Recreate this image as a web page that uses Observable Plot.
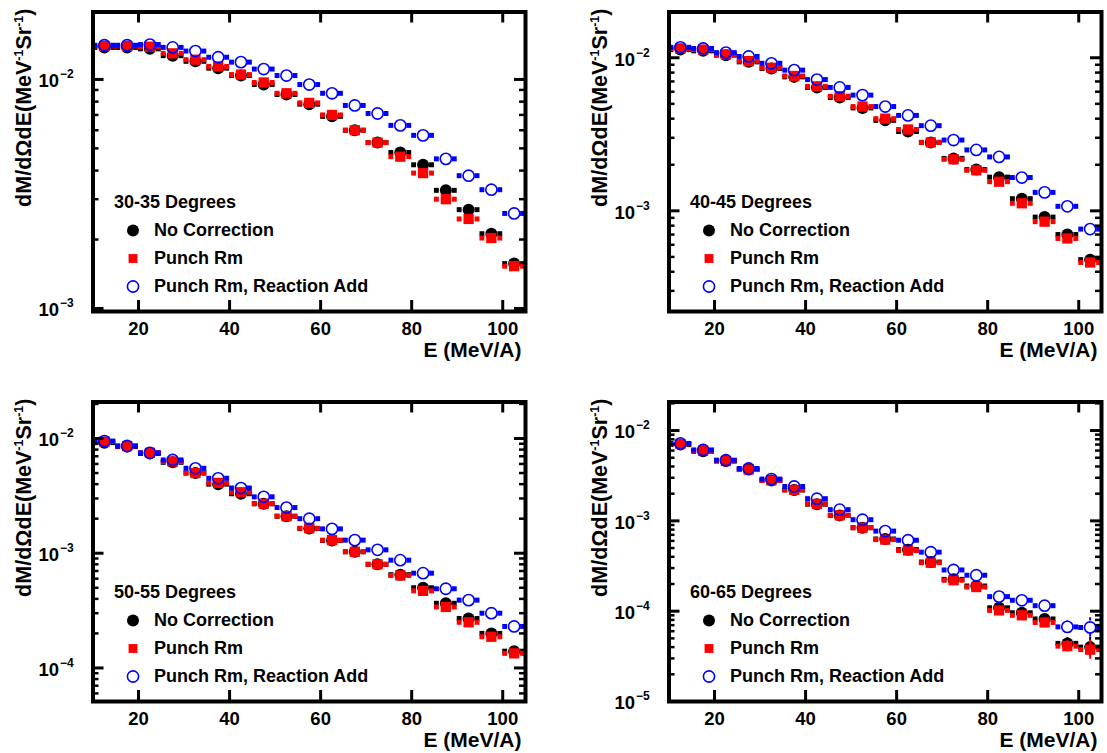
<!DOCTYPE html>
<html><head><meta charset="utf-8">
<script src="https://cdn.jsdelivr.net/npm/d3@7"></script>
<script src="https://cdn.jsdelivr.net/npm/@observablehq/plot@0.6"></script>
<style>
body{margin:0;background:#fff;}
#wrap{position:relative;width:1107px;height:753px;overflow:hidden;background:#fff;}
.panel{position:absolute;width:553px;height:376px;}
.panel svg{max-width:none !important;}
</style></head><body><div id="wrap"></div>
<script>
// ---------------- data ----------------
const energy = [12.5,17.5,22.5,27.5,32.5,37.5,42.5,47.5,52.5,57.5,62.5,67.5,72.5,77.5,82.5,87.5,92.5,97.5,102.5];
const binHalfWidth = 2.5;
const xTicks = [20,40,60,80,100];
const seriesNames = ["No Correction","Punch Rm","Punch Rm, Reaction Add"];
const angleLabels = ["30-35 Degrees","40-45 Degrees","50-55 Degrees","60-65 Degrees"];
const xTitle = "E (MeV/A)";

const noCorr30   = [0.0138,0.0138,0.0136,0.0127,0.0120,0.0112,0.0104,0.0095,0.0086,0.0078,0.0069,0.0060,0.0053,0.0048,0.00424,0.00328,0.0027,0.00212,0.00157];
const punchRm30  = [0.0140,0.0140,0.0139,0.0130,0.0122,0.0114,0.0105,0.0097,0.0087,0.0079,0.0070,0.0060,0.0053,0.0046,0.0039,0.0030,0.00246,0.00203,0.00153];
const reactAdd30 = [0.0141,0.0141,0.0142,0.0138,0.0133,0.0125,0.0119,0.0111,0.0104,0.0095,0.0087,0.0077,0.0071,0.0063,0.0057,0.0045,0.0038,0.0033,0.0026];
const relErr30   = [0.02,0.02,0.02,0.02,0.02,0.02,0.02,0.02,0.02,0.025,0.025,0.03,0.03,0.03,0.035,0.04,0.04,0.045,0.05];

const noCorr40   = [0.0113,0.0111,0.0104,0.0094,0.0085,0.0075,0.0064,0.0055,0.0047,0.0039,0.0033,0.0028,0.0022,0.00186,0.00166,0.0012,0.00091,0.0007,0.00048];
const punchRm40  = [0.0115,0.0113,0.0105,0.0095,0.0086,0.0076,0.0065,0.0056,0.0048,0.0040,0.0034,0.0028,0.00217,0.00184,0.00155,0.00112,0.00085,0.00066,0.00046];
const reactAdd40 = [0.0117,0.0115,0.0108,0.0102,0.0092,0.0083,0.0072,0.0064,0.0057,0.0048,0.0042,0.0036,0.0029,0.0025,0.00225,0.00165,0.00132,0.00107,0.00076];
const relErr40   = [0.02,0.02,0.02,0.02,0.02,0.02,0.025,0.025,0.025,0.03,0.03,0.03,0.035,0.035,0.04,0.045,0.05,0.055,0.06];

const noCorr50   = [0.0092,0.0085,0.0074,0.0062,0.0050,0.0040,0.0033,0.0027,0.0021,0.00164,0.00129,0.00103,0.0008,0.00065,0.0005,0.000366,0.00027,0.0002,0.00014];
const punchRm50  = [0.0094,0.0086,0.0075,0.0063,0.0050,0.0041,0.0034,0.0027,0.0021,0.00165,0.0013,0.00103,0.0008,0.00064,0.00047,0.00034,0.00025,0.000187,0.000134];
const reactAdd50 = [0.0095,0.0086,0.0075,0.0065,0.0055,0.0045,0.0037,0.0031,0.0025,0.0020,0.00163,0.0013,0.00107,0.00087,0.00067,0.00049,0.00039,0.0003,0.00023];
const relErr50   = [0.02,0.02,0.02,0.02,0.025,0.025,0.025,0.03,0.03,0.03,0.035,0.035,0.04,0.04,0.045,0.05,0.055,0.06,0.07];

const noCorr60   = [0.0070,0.0059,0.0046,0.0037,0.0028,0.0022,0.00153,0.00115,0.00084,0.00063,0.00048,0.00035,0.000225,0.00019,0.000109,0.000096,0.000082,0.000044,0.00004];
const punchRm60  = [0.0071,0.0060,0.0046,0.0037,0.0028,0.0022,0.00154,0.00115,0.00084,0.00062,0.00047,0.000344,0.00022,0.000185,0.000102,0.00009,0.000075,0.000041,0.0000375];
const reactAdd60 = [0.0072,0.0061,0.0047,0.0038,0.0029,0.0024,0.00176,0.00133,0.00103,0.00077,0.00061,0.00045,0.000286,0.00025,0.000145,0.000132,0.000115,0.000067,0.000066];
const relErr60   = [0.03,0.03,0.03,0.03,0.03,0.035,0.04,0.04,0.045,0.05,0.06,0.06,0.07,0.08,0.1,0.11,0.12,0.16,0.28];

const yDomain30 = [9.7e-4, 0.0197];
const yDomain40 = [2.2e-4, 0.0199];
const yDomain50 = [5.1e-5, 0.0208];
const yDomain60 = [1e-5, 0.0207];
const yTicks30 = [1e-3, 1e-2];
const yTicks40 = [1e-3, 1e-2];
const yTicks50 = [1e-4, 1e-3, 1e-2];
const yTicks60 = [1e-5, 1e-4, 1e-3, 1e-2];

// ---------------- layout ----------------
const W = 553, H = 376, ML = 92.5, MR = 28, MT = 11.5, MB = 65;
const innerW = W - ML - MR, innerH = H - MT - MB;
const FONT = "'Liberation Sans', Arial, Helvetica, sans-serif";

const panels = [
  {label: angleLabels[0], series: [noCorr30, punchRm30, reactAdd30], err: relErr30, yDomain: yDomain30, yTicks: yTicks30, left: 0, top: 0},
  {label: angleLabels[1], series: [noCorr40, punchRm40, reactAdd40], err: relErr40, yDomain: yDomain40, yTicks: yTicks40, left: 576, top: 0},
  {label: angleLabels[2], series: [noCorr50, punchRm50, reactAdd50], err: relErr50, yDomain: yDomain50, yTicks: yTicks50, left: 0, top: 390},
  {label: angleLabels[3], series: [noCorr60, punchRm60, reactAdd60], err: relErr60, yDomain: yDomain60, yTicks: yTicks60, left: 576, top: 390}
];

const styles = [
  {color: "#000000", fill: "#000000", symbol: "circle", r: 6.0, sw: 0},
  {color: "#ff0000", fill: "#ff0000", symbol: "square", r: 5.8, sw: 0},
  {color: "#0000ff", fill: "none", symbol: "circle", r: 5.6, sw: 1.6}
];

function buildPanel(p) {
  const marks = [];
  const gap = 6.5;
  p.series.forEach((vals, s) => {
    const st = styles[s];
    const d = vals.map((v, j) => ({e: energy[j], v, err: p.err[j]}));
    // horizontal error bars (bin width), split around marker
    marks.push(Plot.ruleY(d, {y: "v", x1: r => r.e - binHalfWidth, x2: r => r.e, insetRight: gap, stroke: st.color, strokeWidth: 5}));
    marks.push(Plot.ruleY(d, {y: "v", x1: r => r.e, x2: r => r.e + binHalfWidth, insetLeft: gap, stroke: st.color, strokeWidth: 5}));
    // vertical error bars
    if (s < 2) {
      marks.push(Plot.ruleX(d, {x: "e", y1: r => r.v / (1 + r.err), y2: r => r.v * (1 + r.err), stroke: st.color, strokeWidth: 2}));
    } else {
      const big = d.filter(r => r.err >= 0.15);
      marks.push(Plot.ruleX(big, {x: "e", y1: r => r.v * (1 + r.err), y2: r => r.v, insetBottom: gap, stroke: st.color, strokeWidth: 2}));
      marks.push(Plot.ruleX(big, {x: "e", y1: r => r.v, y2: r => r.v / (1 + r.err), insetTop: gap, stroke: st.color, strokeWidth: 2}));
    }
    marks.push(Plot.dot(d, {x: "e", y: "v", r: st.r, symbol: st.symbol, fill: st.fill, stroke: st.color, strokeWidth: st.sw}));
  });

  // frame and inward ticks
  const minor = d3.scaleLog().domain(p.yDomain).ticks().filter(t => !p.yTicks.some(m => Math.abs(m - t) / t < 1e-6));
  marks.push(Plot.frame({stroke: "#000", strokeWidth: 4}));
  marks.push(Plot.tickY(p.yTicks, {y: d => d, insetRight: innerW - 11, stroke: "#000", strokeWidth: 3}));
  marks.push(Plot.tickY(p.yTicks, {y: d => d, insetLeft: innerW - 11, stroke: "#000", strokeWidth: 3}));
  marks.push(Plot.tickY(minor, {y: d => d, insetRight: innerW - 6, stroke: "#000", strokeWidth: 2.5}));
  marks.push(Plot.tickY(minor, {y: d => d, insetLeft: innerW - 6, stroke: "#000", strokeWidth: 2.5}));
  marks.push(Plot.tickX(xTicks, {x: d => d, insetTop: innerH - 11, stroke: "#000", strokeWidth: 3}));
  marks.push(Plot.tickX(xTicks, {x: d => d, insetBottom: innerH - 11, stroke: "#000", strokeWidth: 3}));

  // tick labels
  marks.push(Plot.text(xTicks, {x: d => d, text: d => String(d), frameAnchor: "bottom", lineAnchor: "middle", dy: 18, fontSize: 18.5, fontWeight: "bold", fill: "#000"}));
  marks.push(Plot.text(p.yTicks, {y: d => d, text: () => "10", frameAnchor: "left", lineAnchor: "middle", dx: -34, dy: 2, textAnchor: "end", fontSize: 18.5, fontWeight: "bold", fill: "#000"}));
  marks.push(Plot.text(p.yTicks, {y: d => d, text: d => "\u2212" + Math.round(-Math.log10(d)), frameAnchor: "left", lineAnchor: "middle", dx: -33, dy: -5, textAnchor: "start", fontSize: 12, fontWeight: "bold", fill: "#000"}));
  marks.push(Plot.text([xTitle], {text: d => d, frameAnchor: "bottom-right", lineAnchor: "middle", dx: -4, dy: 39, textAnchor: "end", fontSize: 21, fontWeight: "bold", fill: "#000"}));

  // legend
  marks.push(Plot.text([p.label], {text: d => d, frameAnchor: "top-left", lineAnchor: "middle", dx: 21, dy: 190, textAnchor: "start", fontSize: 18, fontWeight: "bold", fill: "#000"}));
  const rows = [218.5, 246.5, 274.5];
  seriesNames.forEach((name, s) => {
    const st = styles[s];
    marks.push(Plot.dot([name], {frameAnchor: "top-left", dx: 40, dy: rows[s], r: s === 1 ? 5.0 : st.r, symbol: st.symbol, fill: st.fill, stroke: st.color, strokeWidth: st.sw}));
    marks.push(Plot.text([name], {text: d => d, frameAnchor: "top-left", lineAnchor: "middle", dx: 61, dy: rows[s], textAnchor: "start", fontSize: 18, fontWeight: "bold", fill: "#000"}));
  });

  const svg = Plot.plot({
    width: W, height: H,
    marginLeft: ML, marginRight: MR, marginTop: MT, marginBottom: MB,
    style: {fontFamily: FONT, background: "white", overflow: "visible", maxWidth: "none"},
    x: {domain: [10, 105], axis: null},
    y: {type: "log", domain: p.yDomain, axis: null},
    marks
  });

  // rotated y title with superscripts
  const t = d3.select(svg).append("text")
    .attr("transform", `translate(31,${MT - 3}) rotate(-90)`)
    .attr("text-anchor", "end")
    .attr("font-family", FONT)
    .attr("font-size", 21.5)
    .attr("font-weight", "bold")
    .attr("fill", "#000");
  t.append("tspan").text("dM/d\u03A9dE(MeV");
  t.append("tspan").attr("dy", -8).attr("font-size", 12.5).text("-1");
  t.append("tspan").attr("dy", 8).text("Sr");
  t.append("tspan").attr("dy", -8).attr("font-size", 12.5).text("-1");
  t.append("tspan").attr("dy", 8).text(")");
  return svg;
}

const wrap = document.getElementById("wrap");
panels.forEach(p => {
  const div = document.createElement("div");
  div.className = "panel";
  div.style.left = p.left + "px";
  div.style.top = p.top + "px";
  div.appendChild(buildPanel(p));
  wrap.appendChild(div);
});
</script>
</body></html>
